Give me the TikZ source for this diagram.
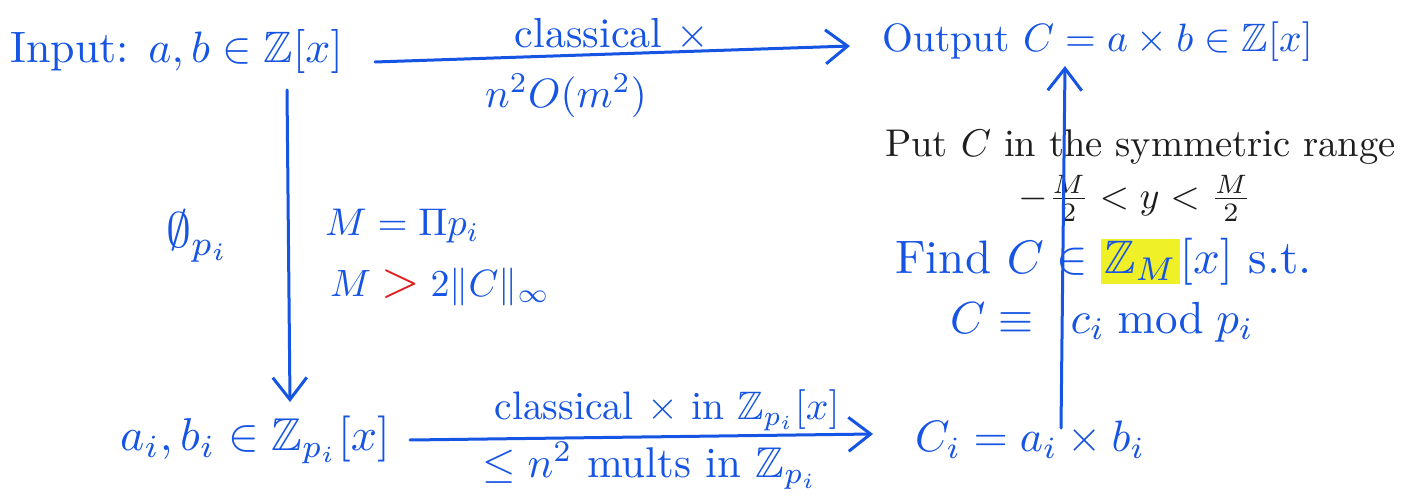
\documentclass[tikz,border=0pt]{standalone}
\usepackage{amssymb}
\usepackage{graphicx}
\usetikzlibrary{arrows.meta}
\definecolor{ink}{RGB}{22,84,228}
\definecolor{pencil}{RGB}{30,30,30}
\definecolor{hl}{RGB}{240,240,40}
\definecolor{redink}{RGB}{225,30,30}
% text scaled up from the 10pt base font
\newcommand\sctxt[2]{\scalebox{#1}{#2}}
\newcommand\marked[1]{{\setlength{\fboxsep}{0.6pt}\colorbox{hl}{#1}}}
\tikzset{
  lbl/.style={text=ink, inner sep=0pt, anchor=west},
  flow/.style={draw=ink, line width=3pt, line cap=round, line join=round,
    -{Straight Barb[length=22pt,width=34pt,line width=3pt]}},
}
\begin{document}
\begin{tikzpicture}[x=1pt,y=-1pt]
\useasboundingbox (0,0) rectangle (1413,497);
\fill[white] (0,0) rectangle (1413,497);

% top row
\node[lbl] (in) at (10,52) {\sctxt{4.4}{Input: $a,b\in\mathbb{Z}[x]$}};
\node[lbl] (out) at (882,42) {\sctxt{3.96}{Output $C=a\times b\in\mathbb{Z}[x]$}};
\coordinate (tA) at (375,62);
\coordinate (tB) at (850,46);
\draw[flow] (tA) -- (tB);
\node[lbl,anchor=center] (tl1) at (612,35) {\sctxt{4.2}{classical $\times$}};
\node[lbl,anchor=center] (tl2) at (566,96) {\sctxt{4.1}{$n^2O(m^2)$}};

% left side: reduction mod p_i
\coordinate (lA) at (287,90);
\coordinate (lB) at (290,402);
\draw[flow] (lA) -- (lB);
\node[lbl,anchor=center] (phi) at (198,236) {\sctxt{5}{$\emptyset_{p_i}$}};
\node[lbl] (M1) at (325,226) {\sctxt{3.86}{$M=\Pi p_i$}};
\node[lbl] (M2) at (330,287) {\sctxt{3.8}{$M\mathrel{\textcolor{redink}{\scalebox{1.3}{$>$}}}2\|C\|_\infty$}};

% bottom row
\node[lbl] (ab) at (120,440) {\sctxt{4.6}{$a_i,b_i\in\mathbb{Z}_{p_i}[x]$}};
\node[lbl] (ci) at (915,440) {\sctxt{4.4}{$C_i=a_i\times b_i$}};
\coordinate (bA) at (410,440);
\coordinate (bB) at (873,434);
\draw[flow] (bA) -- (bB);
\node[lbl,anchor=center] (bl1) at (667,410) {\sctxt{3.97}{classical $\times$ in $\mathbb{Z}_{p_i}[x]$}};
\node[lbl,anchor=center] (bl2) at (650,466) {\sctxt{4.3}{$\leq n^2$ mults in $\mathbb{Z}_{p_i}$}};

% right side: reconstruction
\node[lbl,text=pencil] (sym) at (885,147) {\sctxt{3.86}{Put $C$ in the symmetric range}};
\node[lbl,text=pencil,anchor=center] (rng) at (1135,198) {\sctxt{3.8}{$-\frac{M}{2}<y<\frac{M}{2}$}};
\node[lbl] (find) at (895,262) {\sctxt{4.7}{Find $C\in\marked{$\mathbb{Z}_M$}[x]$ s.t.}};
\node[lbl] (cong) at (950,322) {\sctxt{4.5}{$C\equiv\;\;c_i \bmod p_i$}};
\coordinate (rA) at (1061,428);
\coordinate (rB) at (1065,66);
\draw[flow] (rA) -- (rB);
\end{tikzpicture}
\end{document}
